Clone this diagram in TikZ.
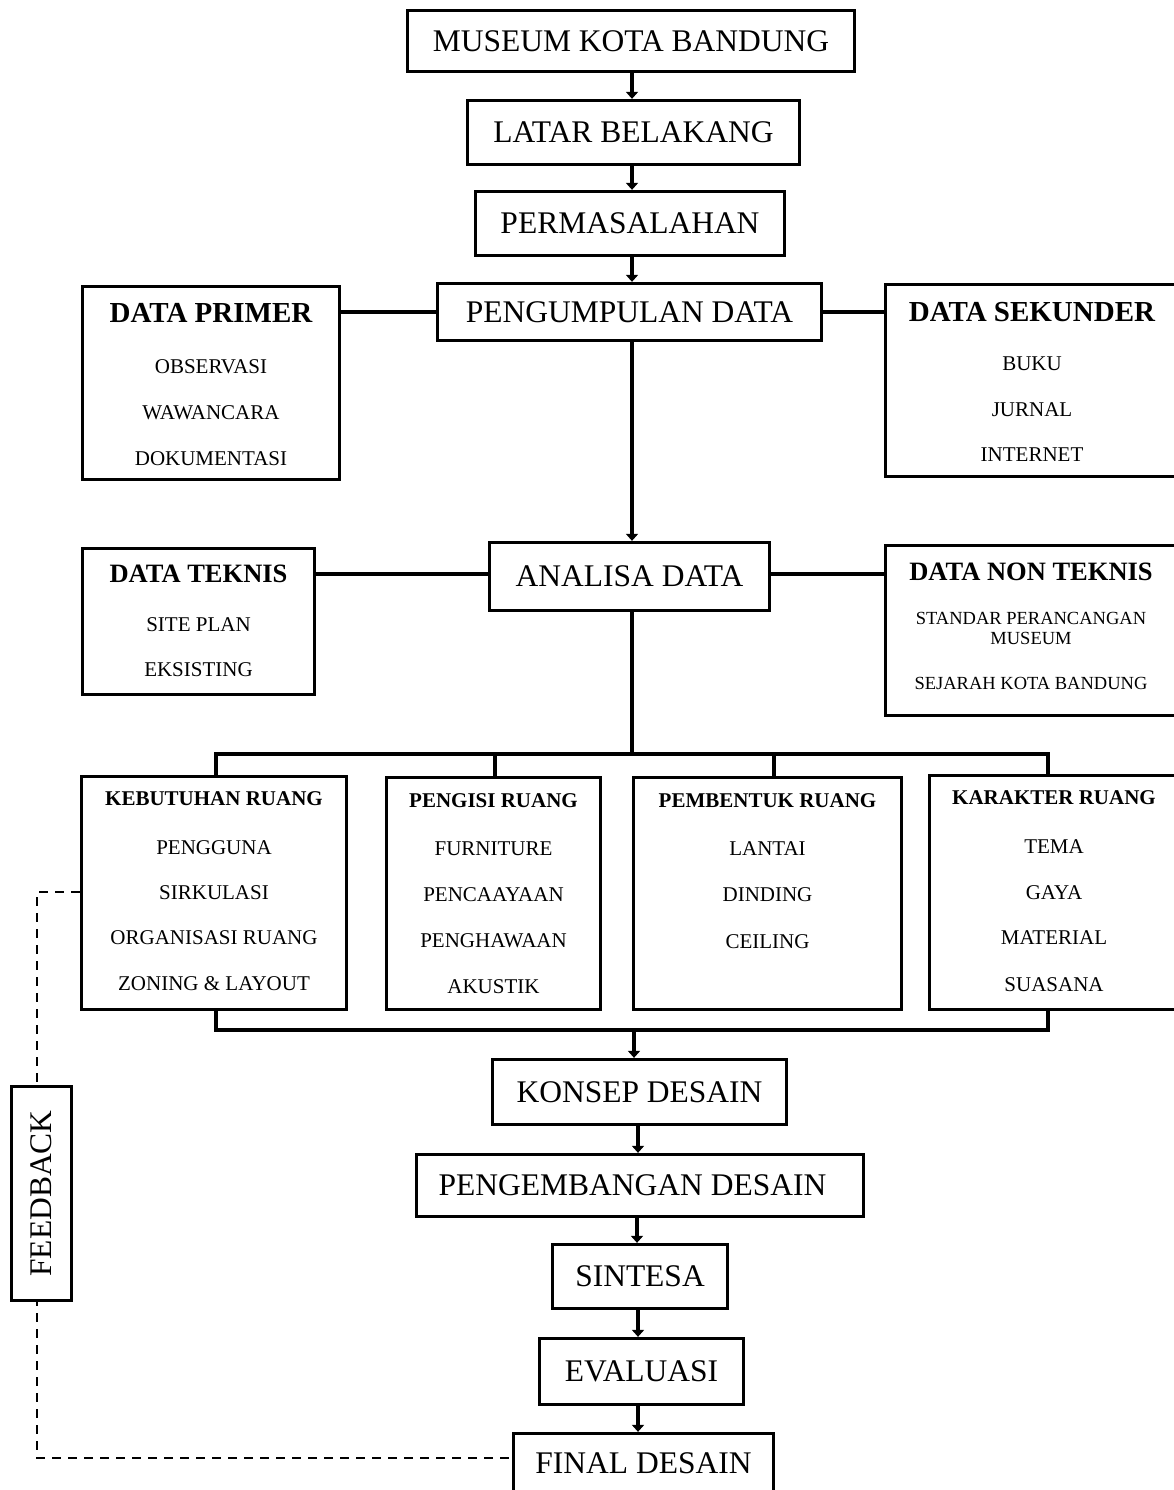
\documentclass[tikz,border=0pt]{standalone}
\usepackage{fontspec}
\setmainfont{Liberation Serif}
\usetikzlibrary{arrows.meta,calc}
\begin{document}
\begin{tikzpicture}[x=1pt,y=-1pt,
  bx/.style={draw, line width=3.3pt, inner sep=0pt, fill=white},
  big/.style={font=\fontsize{31.5}{36}\selectfont},
  ttl/.style={inner sep=0pt, font=\bfseries\fontsize{29}{33}\selectfont},
  ttm/.style={inner sep=0pt, font=\bfseries\fontsize{26.5}{30}\selectfont},
  tts/.style={inner sep=0pt, font=\bfseries\fontsize{21}{24}\selectfont},
  itm/.style={inner sep=0pt, font=\fontsize{21}{24}\selectfont},
  sml/.style={inner sep=0pt, font=\fontsize{18.5}{21}\selectfont},
  ln/.style={line width=3.5pt},
  arr/.style={line width=4pt, -{Triangle[width=12pt,length=7pt]}},
  fbl/.style={line width=2pt, dash pattern=on 9pt off 7pt}]
\clip (0,0) rectangle (1174,1490);
\fill[white] (0,0) rectangle (1174,1490);

% feedback dashed path (behind boxes)
\coordinate (fbT) at (37,892);
\coordinate (fbB) at (37,1458);

% main flow
\node[bx, big, minimum width=447pt, minimum height=61pt] (m1) at (631,41) {MUSEUM KOTA BANDUNG};
\node[bx, big, minimum width=332pt, minimum height=64pt] (m2) at (633.5,132.5) {LATAR BELAKANG};
\node[bx, big, minimum width=309pt, minimum height=64pt] (m3) at (630,223.5) {PERMASALAHAN};
\node[bx, big, minimum width=384pt, minimum height=57pt] (m4) at (629.5,312) {PENGUMPULAN DATA};
\node[bx, big, minimum width=280pt, minimum height=68pt] (m5) at (629.5,576.5) {ANALISA DATA};
\node[bx, big, minimum width=294pt, minimum height=65pt] (m6) at (639.5,1092) {KONSEP DESAIN};
\node[bx, big, minimum width=447pt, minimum height=62pt] (m7) at (640,1185.5) {PENGEMBANGAN DESAIN\hspace*{15pt}};
\node[bx, big, minimum width=175pt, minimum height=64pt] (m8) at (640,1276.5) {SINTESA};
\node[bx, big, minimum width=204pt, minimum height=66pt] (m9) at (641.5,1371.5) {EVALUASI};
\node[bx, big, minimum width=260pt, minimum height=59pt] (m10) at (643.5,1463) {FINAL DESAIN};

% data boxes
\node[bx, minimum width=257pt, minimum height=193pt] (dp) at (211,383) {};
\node[ttl] (dp0) at (211,313) {DATA PRIMER};
\node[itm] (dp1) at (211,367) {OBSERVASI};
\node[itm] (dp2) at (211,413) {WAWANCARA};
\node[itm] (dp3) at (211,459) {DOKUMENTASI};

\node[bx, minimum width=293pt, minimum height=192pt] (ds) at (1032,380.5) {};
\node[ttl] (ds0) at (1032,312) {DATA SEKUNDER};
\node[itm] (ds1) at (1032,364) {BUKU};
\node[itm] (ds2) at (1032,410) {JURNAL};
\node[itm] (ds3) at (1032,455) {INTERNET};

\node[bx, minimum width=232pt, minimum height=146pt] (dt) at (198.5,621.5) {};
\node[ttm] (dt0) at (198.5,574) {DATA TEKNIS};
\node[itm] (dt1) at (198.5,625) {SITE PLAN};
\node[itm] (dt2) at (198.5,670) {EKSISTING};

\node[bx, minimum width=293pt, minimum height=170pt] (dn) at (1032,630.5) {};
\node[ttm] (dn0) at (1031,572) {DATA NON TEKNIS};
\node[sml] (dn1) at (1031,618) {STANDAR PERANCANGAN};
\node[sml] (dn2) at (1031,638) {MUSEUM};
\node[sml] (dn3) at (1031,683) {SEJARAH KOTA BANDUNG};

% lower boxes
\node[bx, minimum width=265pt, minimum height=233pt] (k1) at (214,893) {};
\node[tts] (k10) at (214,799) {KEBUTUHAN RUANG};
\node[itm] (k11) at (214,848) {PENGGUNA};
\node[itm] (k12) at (214,893) {SIRKULASI};
\node[itm] (k13) at (214,938) {ORGANISASI RUANG};
\node[itm] (k14) at (214,984) {ZONING \& LAYOUT};

\node[bx, minimum width=214pt, minimum height=232pt] (k2) at (493.5,893.5) {};
\node[tts] (k20) at (493.5,801) {PENGISI RUANG};
\node[itm] (k21) at (493.5,849) {FURNITURE};
\node[itm] (k22) at (493.5,895) {PENCAAYAAN};
\node[itm] (k23) at (493.5,941) {PENGHAWAAN};
\node[itm] (k24) at (493.5,987) {AKUSTIK};

\node[bx, minimum width=268pt, minimum height=232pt] (k3) at (767.5,893.5) {};
\node[tts] (k30) at (767.5,801) {PEMBENTUK RUANG};
\node[itm] (k31) at (767.5,849) {LANTAI};
\node[itm] (k32) at (767.5,895) {DINDING};
\node[itm] (k33) at (767.5,942) {CEILING};

\node[bx, minimum width=249pt, minimum height=234pt] (k4) at (1054,892.5) {};
\node[tts] (k40) at (1054,798) {KARAKTER RUANG};
\node[itm] (k41) at (1054,847) {TEMA};
\node[itm] (k42) at (1054,893) {GAYA};
\node[itm] (k43) at (1054,938) {MATERIAL};
\node[itm] (k44) at (1054,985) {SUASANA};

% arrows main flow
\draw[arr] (m1.south -| 632,0) -- (m2.north -| 632,0);
\draw[arr] (m2.south -| 632,0) -- (m3.north -| 632,0);
\draw[arr] (m3.south -| 632,0) -- (m4.north -| 632,0);
\draw[arr] (m4.south -| 632,0) -- (m5.north -| 632,0);

% side connectors
\draw[ln] (m4.west) -- (m4.west -| dp.east);
\draw[ln] (m4.east) -- (m4.east -| ds.west);
\draw[ln] (m5.west |- 0,574) -- (dt.east |- 0,574);
\draw[ln] (m5.east |- 0,574) -- (dn.west |- 0,574);

% top bus
\coordinate (bus) at (632,754);
\coordinate (busL) at (216,754);
\coordinate (busR) at (1048,754);
\coordinate (d2) at (495,754);
\coordinate (d3) at (774,754);
\draw[ln] (m5.south -| bus) -- (bus);
\draw[ln] (busL |- k1.north) -- (busL) -- (busR) -- (busR |- k4.north);
\draw[ln] (d2) -- (d2 |- k2.north);
\draw[ln] (d3) -- (d3 |- k3.north);

% bottom bus
\coordinate (bbL) at (216,1030);
\coordinate (bbR) at (1048,1030);
\coordinate (bbM) at (634,1030);
\draw[ln] (bbL |- k1.south) -- (bbL) -- (bbR) -- (bbR |- k4.south);
\draw[arr] (bbM) -- (bbM |- m6.north);

\draw[arr] (m6.south -| 638,0) -- (m7.north -| 638,0);
\draw[arr] (m7.south -| 637,0) -- (m8.north -| 637,0);
\draw[arr] (m8.south -| 638,0) -- (m9.north -| 638,0);
\draw[arr] (m9.south -| 638,0) -- (m10.north -| 638,0);

% feedback
\draw[fbl] (k1.west |- fbT) -- (fbT) -- (fbB) -- (fbB -| m10.west);
\node[bx, big, rotate=90, minimum width=214pt, minimum height=60pt] (fb) at (41.5,1193.5) {FEEDBACK};
\end{tikzpicture}
\end{document}
